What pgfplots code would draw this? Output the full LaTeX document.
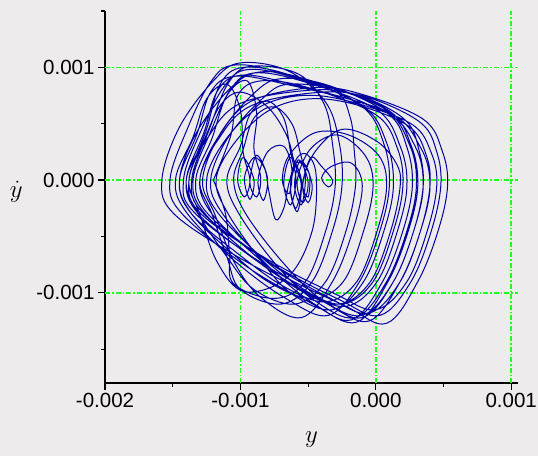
\documentclass[border=0pt]{standalone}
\usepackage{fontspec}
\setmainfont{Liberation Sans}
\usepackage{pgfplots}
\pgfplotsset{compat=1.18}
\definecolor{bgB}{RGB}{237,235,236}
\definecolor{gridgreen}{RGB}{30,255,30}
\definecolor{curve}{RGB}{0,0,160}
\tikzset{gridline/.style={draw=gridgreen, line width=1.5pt, dash pattern=on 5pt off 2pt on 1.5pt off 2pt}}
\begin{document}
\begin{tikzpicture}
\fill[bgB] (0,0) rectangle (538pt,456pt);
\useasboundingbox (0,0) rectangle (538pt,456pt);
\begin{axis}[
 at={(105pt,73pt)}, anchor=south west,
 scale only axis, width=413pt, height=372pt,
 xmin=-0.002, xmax=0.00105, ymin=-0.0018, ymax=0.0015,
 axis x line=bottom, axis y line=left,
 axis line style={-, black, line width=1.3pt},
 xtick={-0.002,-0.001,0,0.001}, xticklabels={-0.002,-0.001,0.000,0.001},
 ytick={-0.001,0,0.001}, yticklabels={-0.001,0.000,0.001},
 minor xtick={-0.0015,-0.0005,0.0005},
 minor ytick={-0.0015,-0.0005,0.0005,0.0015},
 tick align=outside, major tick length=7pt, minor tick length=4pt,
 tick style={draw=black, line width=1.2pt},
 ticklabel style={font=\fontsize{20.5}{24}\selectfont},
 scaled ticks=false,
 xlabel={$y$}, ylabel={$\dot{y}$},
 every axis x label/.style={at={(axis description cs:0.5,-0.153)}, anchor=center, font=\fontsize{27}{30}\selectfont},
 every axis y label/.style={at={(axis description cs:-0.215,0.513)}, anchor=center, font=\fontsize{27}{30}\selectfont},
]
\draw[gridline] (axis cs:-0.001,-0.0018) -- (axis cs:-0.001,0.0015);
\draw[gridline] (axis cs:0,-0.0018) -- (axis cs:0,0.0015);
\draw[gridline] (axis cs:0.001,-0.0018) -- (axis cs:0.001,0.0015);
\draw[gridline] (axis cs:-0.002,0.001) -- (axis cs:0.00105,0.001);
\draw[gridline] (axis cs:-0.002,0) -- (axis cs:0.00105,0);
\draw[gridline] (axis cs:-0.002,-0.001) -- (axis cs:0.00105,-0.001);
\addplot[curve, line width=1.0pt, smooth, tension=0.6] coordinates {
(-1.20e-3,0) (-1.07e-3,0.40e-3) (-1.02e-3,0.75e-3) (-0.85e-3,0.88e-3) (-0.50e-3,0.82e-3) (0.00e-3,0.58e-3) (0.16e-3,0.28e-3) (0.20e-3,-0.05e-3) (0.13e-3,-0.45e-3) (-0.02e-3,-0.90e-3) (-0.25e-3,-1.10e-3) (-0.55e-3,-0.97e-3) (-1.02e-3,-0.68e-3) (-1.49e-3,-0.30e-3)
(-1.58e-3,0) (-1.45e-3,0.47e-3) (-1.20e-3,0.88e-3) (-1.00e-3,1.04e-3) (-0.65e-3,0.97e-3) (-0.37e-3,0.69e-3) (-0.27e-3,0.33e-3) (-0.25e-3,-0.05e-3) (-0.32e-3,-0.45e-3) (-0.47e-3,-0.90e-3) (-0.70e-3,-1.10e-3) (-1.00e-3,-0.97e-3) (-1.10e-3,-0.68e-3) (-1.21e-3,-0.30e-3)
(-1.30e-3,0) (-1.17e-3,0.37e-3) (-0.92e-3,0.70e-3) (-0.45e-3,0.82e-3) (-0.10e-3,0.76e-3) (0.35e-3,0.54e-3) (0.49e-3,0.26e-3) (0.53e-3,-0.05e-3) (0.46e-3,-0.45e-3) (0.31e-3,-0.90e-3) (0.08e-3,-1.27e-3) (-0.22e-3,-1.12e-3) (-0.77e-3,-0.79e-3) (-1.33e-3,-0.30e-3)
(-1.42e-3,0) (-1.29e-3,0.44e-3) (-1.12e-3,0.83e-3) (-0.95e-3,0.98e-3) (-0.60e-3,0.91e-3) (0.04e-3,0.65e-3) (0.25e-3,0.31e-3) (0.30e-3,-0.05e-3) (0.23e-3,-0.45e-3) (0.08e-3,-0.90e-3) (-0.15e-3,-1.22e-3) (-0.45e-3,-1.07e-3) (-0.73e-3,-0.76e-3) (-1.01e-3,-0.30e-3)
(-1.10e-3,0) (-1.00e-3,0.30e-3) (-0.93e-3,0.58e-3) (-0.80e-3,0.70e-3) (-0.68e-3,0.55e-3) (-0.63e-3,0.25e-3) (-0.59e-3,0) (-0.63e-3,-0.22e-3) (-0.68e-3,-0.03e-3) (-0.63e-3,0.20e-3) (-0.55e-3,0) (-0.59e-3,-0.25e-3) (-0.63e-3,-0.05e-3) (-0.57e-3,0.18e-3) (-0.50e-3,-0.02e-3) (-0.54e-3,-0.20e-3) (-0.58e-3,0) (-0.48e-3,0.28e-3) (-0.28e-3,0.40e-3) (-0.08e-3,0.22e-3) (-0.02e-3,-0.05e-3) (-0.09e-3,-0.45e-3) (-0.24e-3,-0.90e-3) (-0.47e-3,-1.05e-3) (-0.77e-3,-0.92e-3) (-1.05e-3,-0.66e-3) (-1.36e-3,-0.30e-3)
(-1.45e-3,0) (-1.32e-3,0.41e-3) (-1.22e-3,0.78e-3) (-1.05e-3,0.92e-3) (-0.70e-3,0.86e-3) (0.08e-3,0.61e-3) (0.33e-3,0.29e-3) (0.40e-3,-0.05e-3) (0.33e-3,-0.45e-3) (0.18e-3,-0.90e-3) (-0.05e-3,-1.25e-3) (-0.35e-3,-1.10e-3) (-0.75e-3,-0.78e-3) (-1.16e-3,-0.30e-3)
(-1.25e-3,0) (-1.12e-3,0.34e-3) (-0.87e-3,0.64e-3) (-0.55e-3,0.75e-3) (-0.20e-3,0.70e-3) (0.26e-3,0.50e-3) (0.41e-3,0.24e-3) (0.45e-3,-0.05e-3) (0.38e-3,-0.45e-3) (0.23e-3,-0.90e-3) (0,-1.15e-3) (-0.30e-3,-1.01e-3) (-0.79e-3,-0.71e-3) (-1.29e-3,-0.30e-3)
(-1.38e-3,0) (-1.25e-3,0.45e-3) (-1.15e-3,0.85e-3) (-0.98e-3,1.00e-3) (-0.63e-3,0.93e-3) (-0.11e-3,0.66e-3) (0.06e-3,0.32e-3) (0.10e-3,-0.05e-3) (0.03e-3,-0.45e-3) (-0.12e-3,-0.90e-3) (-0.35e-3,-1.20e-3) (-0.65e-3,-1.06e-3) (-1.02e-3,-0.74e-3) (-1.39e-3,-0.30e-3)
(-1.48e-3,0) (-1.35e-3,0.38e-3) (-1.25e-3,0.72e-3) (-1.10e-3,0.85e-3) (-1.00e-3,0.62e-3) (-0.98e-3,0.25e-3) (-0.93e-3,0) (-0.97e-3,-0.15e-3) (-1.02e-3,0) (-0.98e-3,0.20e-3) (-0.90e-3,0) (-0.93e-3,-0.17e-3) (-0.97e-3,0.02e-3) (-0.90e-3,0.20e-3) (-0.82e-3,0.10e-3) (-0.79e-3,-0.10e-3) (-0.74e-3,-0.35e-3) (-0.68e-3,-0.25e-3) (-0.64e-3,-0.02e-3) (-0.58e-3,0.20e-3) (-0.50e-3,0.22e-3) (-0.44e-3,0.03e-3) (-0.47e-3,-0.45e-3) (-0.65e-3,-0.86e-3) (-0.97e-3,-0.99e-3) (-1.17e-3,-0.73e-3) (-1.30e-3,-0.30e-3)
(-1.38e-3,0) (-1.25e-3,0.36e-3) (-1.00e-3,0.68e-3) (-0.45e-3,0.80e-3) (-0.10e-3,0.74e-3) (0.22e-3,0.53e-3) (0.32e-3,0.26e-3) (0.35e-3,-0.05e-3) (0.28e-3,-0.45e-3) (0.13e-3,-0.90e-3) (-0.10e-3,-1.22e-3) (-0.40e-3,-1.07e-3) (-0.83e-3,-0.76e-3) (-1.26e-3,-0.30e-3)
(-1.35e-3,0) (-1.22e-3,0.43e-3) (-1.07e-3,0.81e-3) (-0.90e-3,0.95e-3) (-0.55e-3,0.88e-3) (0.00e-3,0.63e-3) (0.18e-3,0.30e-3) (0.23e-3,-0.05e-3) (0.16e-3,-0.45e-3) (0.01e-3,-0.90e-3) (-0.22e-3,-1.12e-3) (-0.52e-3,-0.99e-3) (-0.91e-3,-0.69e-3) (-1.31e-3,-0.30e-3)
(-1.40e-3,0) (-1.27e-3,0.35e-3) (-1.15e-3,0.66e-3) (-1.00e-3,0.78e-3) (-0.80e-3,0.65e-3) (-0.66e-3,0.40e-3) (-0.60e-3,0.15e-3) (-0.55e-3,-0.05e-3) (-0.58e-3,-0.28e-3) (-0.63e-3,-0.10e-3) (-0.60e-3,0.14e-3) (-0.52e-3,0.12e-3) (-0.47e-3,-0.05e-3) (-0.50e-3,-0.20e-3) (-0.54e-3,-0.05e-3) (-0.48e-3,0.20e-3) (-0.40e-3,0.12e-3) (-0.32e-3,0) (-0.35e-3,-0.06e-3) (-0.40e-3,0.02e-3) (-0.33e-3,0.12e-3) (-0.18e-3,0.15e-3) (-0.10e-3,-0.05e-3) (-0.17e-3,-0.45e-3) (-0.32e-3,-0.90e-3) (-0.55e-3,-1.22e-3) (-0.85e-3,-1.04e-3) (-1.04e-3,-0.74e-3) (-1.19e-3,-0.30e-3)
(-1.28e-3,0) (-1.15e-3,0.41e-3) (-0.90e-3,0.77e-3) (-0.70e-3,0.90e-3) (-0.35e-3,0.84e-3) (0.09e-3,0.59e-3) (0.23e-3,0.29e-3) (0.27e-3,-0.05e-3) (0.20e-3,-0.45e-3) (0.05e-3,-0.90e-3) (-0.18e-3,-1.24e-3) (-0.48e-3,-1.09e-3) (-0.95e-3,-0.77e-3) (-1.43e-3,-0.30e-3)
(-1.52e-3,0) (-1.39e-3,0.46e-3) (-1.22e-3,0.87e-3) (-1.05e-3,1.02e-3) (-0.70e-3,0.95e-3) (-0.11e-3,0.67e-3) (0.08e-3,0.33e-3) (0.13e-3,-0.05e-3) (0.06e-3,-0.45e-3) (-0.09e-3,-0.90e-3) (-0.32e-3,-1.15e-3) (-0.62e-3,-1.01e-3) (-0.85e-3,-0.71e-3) (-1.09e-3,-0.30e-3)
(-1.18e-3,0) (-1.05e-3,0.32e-3) (-0.80e-3,0.61e-3) (-0.50e-3,0.72e-3) (-0.15e-3,0.67e-3) (0.24e-3,0.48e-3) (0.37e-3,0.23e-3) (0.40e-3,-0.05e-3) (0.33e-3,-0.45e-3) (0.18e-3,-0.90e-3) (-0.05e-3,-1.18e-3) (-0.35e-3,-1.04e-3) (-0.79e-3,-0.73e-3) (-1.24e-3,-0.30e-3)
(-1.33e-3,0) (-1.21e-3,0.37e-3) (-1.10e-3,0.75e-3) (-0.95e-3,0.88e-3) (-0.88e-3,0.60e-3) (-0.90e-3,0.28e-3) (-0.85e-3,0.02e-3) (-0.88e-3,-0.15e-3) (-0.93e-3,-0.02e-3) (-0.88e-3,0.22e-3) (-0.80e-3,0.02e-3) (-0.83e-3,-0.18e-3) (-0.87e-3,0) (-0.80e-3,0.25e-3) (-0.68e-3,0.30e-3) (-0.62e-3,0.10e-3) (-0.64e-3,-0.12e-3) (-0.69e-3,0) (-0.64e-3,0.22e-3) (-0.45e-3,0.42e-3) (-0.20e-3,0.40e-3) (0.02e-3,0.22e-3) (0.08e-3,-0.05e-3) (0.01e-3,-0.45e-3) (-0.14e-3,-0.90e-3) (-0.37e-3,-1.08e-3) (-0.67e-3,-0.95e-3) (-1.00e-3,-0.67e-3) (-1.36e-3,-0.30e-3)
(-1.45e-3,0) (-1.32e-3,0.43e-3) (-1.07e-3,0.82e-3) (-0.85e-3,0.96e-3) (-0.50e-3,0.89e-3) (0.08e-3,0.63e-3) (0.26e-3,0.31e-3) (0.31e-3,-0.05e-3) (0.24e-3,-0.45e-3) (0.09e-3,-0.90e-3) (-0.14e-3,-1.26e-3) (-0.44e-3,-1.11e-3) (-0.78e-3,-0.78e-3) (-1.13e-3,-0.30e-3)
(-1.22e-3,0) (-1.09e-3,0.38e-3) (-0.84e-3,0.72e-3) (-0.65e-3,0.85e-3) (-0.30e-3,0.79e-3) (-0.19e-3,0.56e-3) (-0.16e-3,0.27e-3) (-0.15e-3,-0.05e-3) (-0.22e-3,-0.45e-3) (-0.37e-3,-0.90e-3) (-0.60e-3,-1.10e-3) (-0.90e-3,-0.97e-3) (-1.10e-3,-0.68e-3) (-1.31e-3,-0.30e-3)
(-1.40e-3,0) (-1.27e-3,0.42e-3) (-1.17e-3,0.79e-3) (-1.00e-3,0.93e-3) (-0.65e-3,0.86e-3) (0.06e-3,0.61e-3) (0.29e-3,0.30e-3) (0.35e-3,-0.05e-3) (0.28e-3,-0.45e-3) (0.13e-3,-0.90e-3) (-0.10e-3,-1.20e-3) (-0.40e-3,-1.06e-3) (-0.68e-3,-0.74e-3) (-0.96e-3,-0.30e-3)
(-1.05e-3,0) (-0.98e-3,0.27e-3) (-0.90e-3,0.55e-3) (-0.75e-3,0.65e-3) (-0.62e-3,0.50e-3) (-0.56e-3,0.25e-3) (-0.52e-3,0.02e-3) (-0.55e-3,-0.22e-3) (-0.60e-3,-0.05e-3) (-0.56e-3,0.17e-3) (-0.49e-3,0.05e-3) (-0.50e-3,-0.15e-3) (-0.54e-3,-0.02e-3) (-0.45e-3,0.25e-3) (-0.25e-3,0.45e-3) (0,0.35e-3) (0.15e-3,0.15e-3) (0.18e-3,-0.05e-3) (0.11e-3,-0.45e-3) (-0.04e-3,-0.90e-3) (-0.27e-3,-1.10e-3) (-0.57e-3,-0.97e-3) (-0.88e-3,-0.68e-3) (-1.21e-3,-0.30e-3)
(-1.30e-3,0) (-1.17e-3,0.35e-3) (-0.92e-3,0.66e-3) (-0.40e-3,0.78e-3) (-0.05e-3,0.73e-3) (0.33e-3,0.51e-3) (0.45e-3,0.25e-3) (0.48e-3,-0.05e-3) (0.41e-3,-0.45e-3) (0.26e-3,-0.90e-3) (0.03e-3,-1.20e-3) (-0.27e-3,-1.06e-3) (-0.77e-3,-0.74e-3) (-1.27e-3,-0.30e-3)
(-1.36e-3,0) (-1.23e-3,0.45e-3) (-1.09e-3,0.86e-3) (-0.92e-3,1.01e-3) (-0.57e-3,0.94e-3) (-0.38e-3,0.67e-3) (-0.32e-3,0.32e-3) (-0.30e-3,-0.05e-3) (-0.37e-3,-0.45e-3) (-0.52e-3,-0.90e-3) (-0.75e-3,-1.05e-3) (-1.05e-3,-0.92e-3) (-1.08e-3,-0.65e-3) (-1.11e-3,-0.30e-3) (-1.20e-3,0)
};
\end{axis}
\end{tikzpicture}
\end{document}
